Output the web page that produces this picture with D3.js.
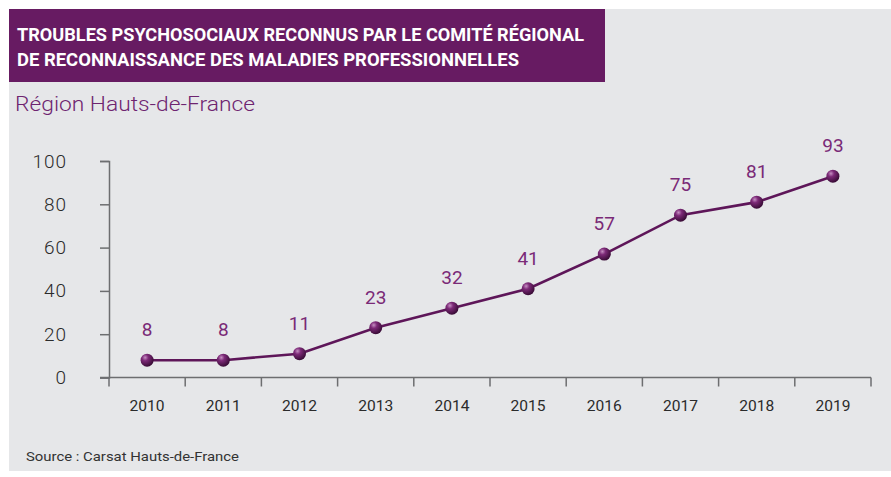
<!DOCTYPE html>
<html><head><meta charset="utf-8">
<script src="https://cdn.jsdelivr.net/npm/d3@7"></script>
<style>
html,body{margin:0;padding:0;background:#fff;}
svg{display:block;}
</style></head>
<body>
<svg id="chart" width="891" height="477"></svg>
<script>
// Recognised psychosocial disorders per year
const years = ["2010","2011","2012","2013","2014","2015","2016","2017","2018","2019"];
const counts = [8, 8, 11, 23, 32, 41, 57, 75, 81, 93];
const yTicks = [0, 20, 40, 60, 80, 100];
const titleLines = [
  "TROUBLES PSYCHOSOCIAUX RECONNUS PAR LE COMITÉ RÉGIONAL",
  "DE RECONNAISSANCE DES MALADIES PROFESSIONNELLES"
];
const subtitle = "Région Hauts-de-France";
const source = "Source : Carsat Hauts-de-France";

const svg = d3.select("#chart");
const font = "Roboto, 'Liberation Sans', sans-serif";
const purple = "#671b62";

// panel background
svg.append("rect").attr("x", 9).attr("y", 9).attr("width", 882).attr("height", 462).attr("fill", "#e6e7e9");
// title banner
svg.append("rect").attr("x", 9).attr("y", 9).attr("width", 596).attr("height", 73).attr("fill", purple);
svg.append("g").selectAll("text").data(titleLines).join("text")
  .attr("x", 17).attr("y", (d, i) => 41 + i * 25)
  .attr("fill", "#fff").attr("font-family", font).attr("font-weight", 700)
  .attr("font-size", 17.5).attr("textLength", (d, i) => i === 0 ? 567 : 502).attr("lengthAdjust", "spacingAndGlyphs")
  .text(d => d);

svg.append("text").attr("x", 15).attr("y", 111).attr("fill", "#6e2470")
  .attr("font-family", font).attr("font-weight", 300).attr("font-size", 21)
  .attr("textLength", 240).attr("lengthAdjust", "spacingAndGlyphs").text(subtitle);

svg.append("text").attr("x", 26).attr("y", 461).attr("fill", "#333")
  .attr("font-family", font).attr("font-size", 13.5)
  .attr("textLength", 213).attr("lengthAdjust", "spacingAndGlyphs").text(source);

// scales
const x = d3.scaleBand().domain(years).range([109, 871]);
const y = d3.scaleLinear().domain([0, 100]).range([377.5, 161]);

// y axis
const yAxis = svg.append("g").attr("transform", "translate(109,0)")
  .call(d3.axisLeft(y).tickValues(yTicks).tickSize(9).tickPadding(33));
yAxis.select(".domain").attr("stroke", "#6d6e70").attr("stroke-width", 1.5);
yAxis.selectAll(".tick line").attr("stroke", "#6d6e70").attr("stroke-width", 1.5);
yAxis.selectAll(".tick text").attr("font-family", font).attr("font-size", 19).attr("font-weight", 300)
  .attr("letter-spacing", 1).attr("fill", "#2b2b2b");

// x axis: ticks at band boundaries
const xAxis = svg.append("g").attr("transform", "translate(0,377.5)");
xAxis.append("line").attr("x1", 100).attr("x2", 871).attr("stroke", "#6d6e70").attr("stroke-width", 1.5);
const bounds = years.map(d => x(d)).concat([x.range()[1]]);
xAxis.selectAll(".tk").data(bounds).join("line").attr("class", "tk")
  .attr("x1", d => d).attr("x2", d => d).attr("y1", 0).attr("y2", 9)
  .attr("stroke", "#6d6e70").attr("stroke-width", 1.5);
xAxis.selectAll(".lbl").data(years).join("text").attr("class", "lbl")
  .attr("x", d => x(d) + x.bandwidth() / 2).attr("y", 33)
  .attr("text-anchor", "middle").attr("font-family", font).attr("font-size", 15).attr("fill", "#2b2b2b")
  .attr("textLength", 35).attr("lengthAdjust", "spacingAndGlyphs")
  .text(d => d);

// data
const data = years.map((d, i) => ({year: d, value: counts[i]}));
const cx = d => x(d.year) + x.bandwidth() / 2;

svg.append("path").datum(data)
  .attr("d", d3.line().x(cx).y(d => y(d.value)))
  .attr("fill", "none").attr("stroke", "#5e1659").attr("stroke-width", 2.6);

const defs = svg.append("defs");
const grad = defs.append("radialGradient").attr("id", "ball").attr("cx", "35%").attr("cy", "30%").attr("r", "70%");
grad.append("stop").attr("offset", "0%").attr("stop-color", "#c58fc2");
grad.append("stop").attr("offset", "35%").attr("stop-color", "#7d2a78");
grad.append("stop").attr("offset", "100%").attr("stop-color", "#3a0c37");

svg.append("g").selectAll("circle").data(data).join("circle")
  .attr("cx", cx).attr("cy", d => y(d.value)).attr("r", 6.5).attr("fill", "url(#ball)");

svg.append("g").selectAll("text").data(data).join("text")
  .attr("x", cx).attr("y", d => y(d.value) - 24)
  .attr("text-anchor", "middle").attr("font-family", font).attr("font-size", 19).attr("fill", "#7a2a77")
  .text(d => d.value);
</script>
</body></html>
